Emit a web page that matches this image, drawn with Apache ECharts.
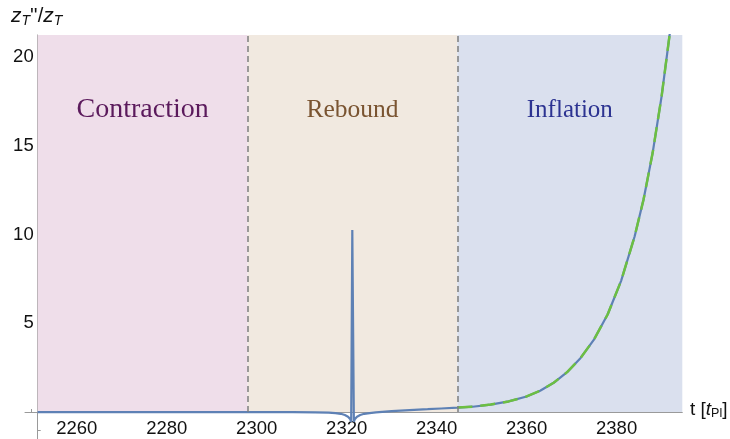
<!DOCTYPE html>
<html><head><meta charset="utf-8">
<script src="https://cdn.jsdelivr.net/npm/echarts@6/dist/echarts.min.js"></script>
<style>html,body{margin:0;padding:0;background:#fff}#c{width:730px;height:439px}</style>
</head><body><div id="c"></div>
<script>
// ---- data ----
const tBlue = [2251.3, 2260, 2270, 2280, 2290, 2300, 2308, 2313, 2316, 2317.5, 2318.7, 2319.6, 2320.3, 2320.8, 2321.0, 2321.25, 2321.35, 2321.6, 2321.8, 2322.3, 2323, 2323.9, 2325.1, 2326.5, 2330, 2334, 2338, 2341, 2344.6,
  2348, 2352, 2356, 2360, 2363, 2366, 2369, 2372, 2375, 2378, 2381, 2384, 2386, 2388, 2390, 2392];
const yBlue = [0, 0, 0, 0, 0, -0.01, -0.01, -0.02, -0.03, -0.06, -0.1, -0.17, -0.27, -0.4, -0.55, 10.26, 10.26, -0.55, -0.4, -0.27, -0.17, -0.1, -0.06, -0.02, 0.05, 0.11, 0.16, 0.2, 0.25,
  0.3, 0.42, 0.6, 0.88, 1.2, 1.65, 2.25, 3.05, 4.1, 5.5, 7.4, 9.9, 12.0, 14.6, 17.8, 21.7];
const tGreen = [2344.6, 2348, 2352, 2356, 2360, 2363, 2366, 2369, 2372, 2375, 2378, 2381, 2384, 2386, 2388, 2390, 2392];
const yGreen = [0.25, 0.3, 0.42, 0.6, 0.88, 1.2, 1.65, 2.25, 3.05, 4.1, 5.5, 7.4, 9.9, 12.0, 14.6, 17.8, 21.7];
const regionNames = ['Contraction', 'Rebound', 'Inflation'];
const regionStart = [2251.3, 2298, 2344.6];
const regionEnd = [2298, 2344.6, 2394.6];
const dividers = [2298, 2344.6];
const xMajorTicks = [2260, 2280, 2300, 2320, 2340, 2360, 2380];
const xMinorTicks = [2250, 2255, 2265, 2270, 2275, 2285, 2290, 2295, 2305, 2310, 2315, 2325, 2330, 2335, 2345, 2350, 2355, 2365, 2370, 2375, 2385, 2390];
const yMajorTicks = [5, 10, 15, 20];
const yMinorTicks = [-1, 1, 2, 3, 4, 6, 7, 8, 9, 11, 12, 13, 14, 16, 17, 18, 19, 21];
const X_MIN = 2248.5, X_MAX = 2394.6, Y_MIN = -1.52, Y_MAX = 21.26;

const regionFill = ['#efdeea', '#f1e9e0', '#dae0ee'];
const regionText = ['#5b1a5c', '#7a5431', '#2c3391'];
const regionFont = [28, 25.5, 25];
const axisGray = '#9a9a9a';

const zip = (a, b) => a.map((v, i) => [v, b[i]]);

const chart = echarts.init(document.getElementById('c'), null, {renderer: 'canvas'});

const xBase = {type: 'value', min: X_MIN, max: X_MAX, position: 'bottom', offset: -27, splitLine: {show: false}};
const yBase = {type: 'value', min: Y_MIN, max: Y_MAX, position: 'left', offset: -12.7, splitLine: {show: false}};

chart.setOption({
  animation: false,
  grid: {left: 25, top: 35, width: 657.3, height: 404, containLabel: false},
  xAxis: [
    Object.assign({}, xBase, {
      axisLine: {show: true, lineStyle: {color: axisGray, width: 1}},
      axisTick: {show: true, inside: true, length: 5, lineStyle: {color: axisGray}, customValues: xMajorTicks},
      axisLabel: {show: true, customValues: xMajorTicks, formatter: v => String(v), color: '#111', fontSize: 18.5, fontFamily: 'Liberation Sans', margin: 7}
    }),
    Object.assign({}, xBase, {
      axisLine: {show: false},
      axisTick: {show: true, inside: true, length: 3, lineStyle: {color: axisGray}, customValues: xMinorTicks},
      axisLabel: {show: false}
    })
  ],
  yAxis: [
    Object.assign({}, yBase, {
      axisLine: {show: true, lineStyle: {color: axisGray, width: 1}},
      axisTick: {show: true, inside: true, length: 5, lineStyle: {color: axisGray}, customValues: yMajorTicks},
      axisLabel: {show: true, customValues: yMajorTicks, formatter: v => String(v), color: '#111', fontSize: 18.5, fontFamily: 'Liberation Sans', margin: 4}
    }),
    Object.assign({}, yBase, {
      axisLine: {show: false},
      axisTick: {show: true, inside: true, length: 3, lineStyle: {color: axisGray}, customValues: yMinorTicks},
      axisLabel: {show: false}
    })
  ],
  series: [
    {
      type: 'line', data: [], z: 1, silent: true,
      markArea: {
        silent: true,
        data: regionNames.map((n, i) => [
          {name: n, xAxis: regionStart[i], yAxis: 0, itemStyle: {color: regionFill[i], opacity: 1},
           label: {show: true, position: 'insideTop', distance: 61 + (28 - regionFont[i]) / 2, color: regionText[i], fontSize: regionFont[i], fontFamily: 'Liberation Serif'}},
          {xAxis: regionEnd[i], yAxis: Y_MAX}
        ])
      },
      markLine: {
        silent: true, symbol: 'none', label: {show: false},
        lineStyle: {color: '#7f7f7f', type: [6, 4], width: 1.5},
        data: dividers.map(d => [{coord: [d, 0]}, {coord: [d, Y_MAX]}])
      }
    },
    {
      type: 'line', data: zip(tBlue, yBlue), showSymbol: false, z: 3, clip: true,
      lineStyle: {color: '#5e81b5', width: 2.2}
    },
    {
      type: 'line', data: zip(tGreen, yGreen), showSymbol: false, z: 4, clip: true,
      lineStyle: {color: '#6cbf42', width: 2.5, type: [15, 8]}
    }
  ],
  graphic: [
    {type: 'text', left: 11, top: 6, style: {
      text: '{z|z}{s|T}{p|\'\'/}{z|z}{s|T}',
      rich: {
        z: {fontSize: 21, fontStyle: 'italic', fontFamily: 'Liberation Sans', fill: '#111'},
        s: {fontSize: 14, fontStyle: 'italic', fontFamily: 'Liberation Sans', fill: '#111', padding: [9, 0, 0, 0]},
        p: {fontSize: 20, fontFamily: 'Liberation Sans', fill: '#111'}
      }
    }},
    {type: 'text', left: 690, top: 400, style: {
      text: '{n|t [}{i|t}{s|Pl}{n|]}',
      rich: {
        n: {fontSize: 19, fontFamily: 'Liberation Sans', fill: '#111'},
        i: {fontSize: 19, fontStyle: 'italic', fontFamily: 'Liberation Sans', fill: '#111'},
        s: {fontSize: 12.5, fontFamily: 'Liberation Sans', fill: '#111', padding: [8, 0, 0, 0]}
      }
    }},
    {type: 'line', shape: {x1: 500, y1: 231.5, x2: 556, y2: 231.5}, style: {stroke: '#33ab4c', lineWidth: 1.6, lineDash: [12, 10]}},
    {type: 'text', x: 566, y: 232, style: {text: ':', fontSize: 19, fontFamily: 'Liberation Serif', fill: '#33ab4c', align: 'center', verticalAlign: 'middle'}},
    {type: 'line', shape: {x1: 573, y1: 231, x2: 596, y2: 231}, style: {stroke: '#33ab4c', lineWidth: 1.3}},
    {type: 'text', x: 583.5, y: 217, style: {text: '2', fontSize: 20, fontFamily: 'Liberation Serif', fill: '#33ab4c', align: 'center', verticalAlign: 'middle'}},
    {type: 'text', x: 579.5, y: 250, style: {text: 'η', fontSize: 21, fontStyle: 'italic', fontFamily: 'Liberation Serif', fill: '#33ab4c', align: 'center', verticalAlign: 'middle'}},
    {type: 'text', x: 589.5, y: 243, style: {text: '2', fontSize: 12, fontFamily: 'Liberation Serif', fill: '#33ab4c', align: 'center', verticalAlign: 'middle'}}
  ]
});
</script>
</body></html>
